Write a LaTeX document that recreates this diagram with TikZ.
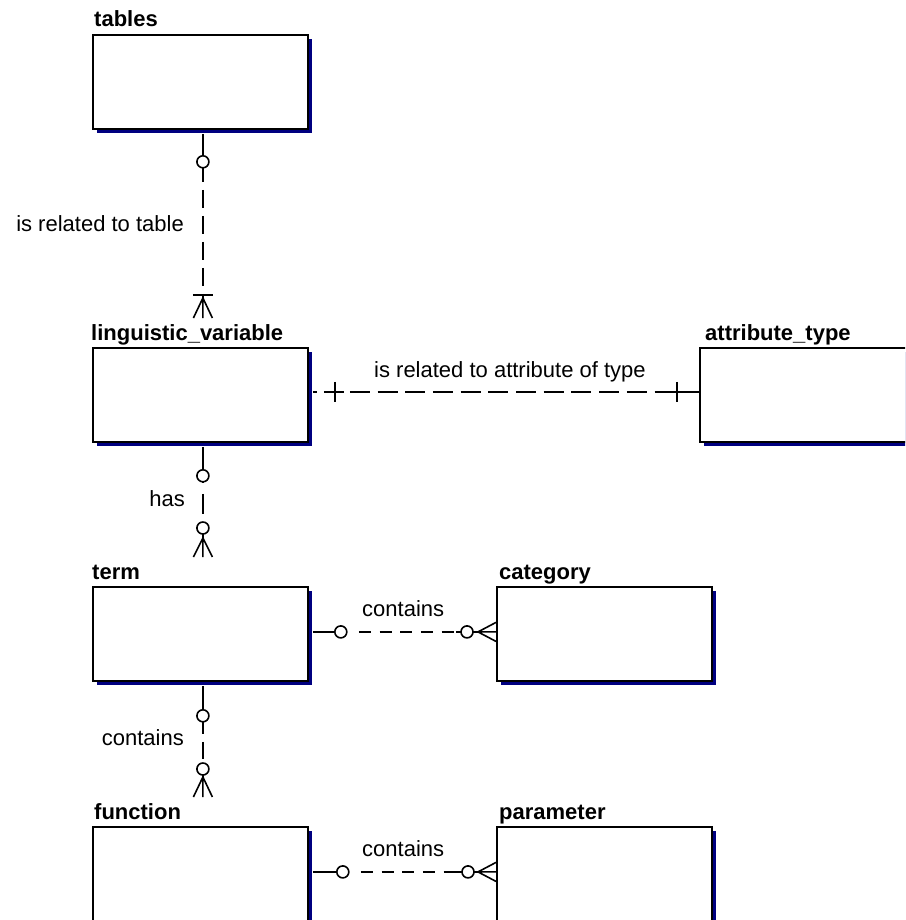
\documentclass[tikz,border=0pt]{standalone}
\usepackage{fontspec}
\setmainfont{Liberation Sans}
\usetikzlibrary{calc,shadows}
\definecolor{shadownavy}{RGB}{0,0,128}
\begin{document}
\begin{tikzpicture}[x=1pt,y=-1pt,
  entity/.style={draw=black, line width=1.8pt, fill=white,
    minimum width=215pt, minimum height=94pt, inner sep=0pt, anchor=north west,
    general shadow={fill=shadownavy, shadow xshift=4pt, shadow yshift=-4pt}},
  title/.style={anchor=base west, inner sep=0pt, font=\fontsize{22}{26}\selectfont\bfseries},
  lbl/.style={inner sep=0pt, font=\fontsize{22}{26}\selectfont},
  conn/.style={line width=1.6pt, black},
  dsh/.style={conn, dash pattern=on 12pt off 8.7pt},
  vdsh/.style={conn, dash pattern=on 18pt off 8pt},
  ldsh/.style={conn, dash pattern=on 20pt off 7.7pt},
  opt/.style={circle, draw=black, line width=1.6pt, fill=white, minimum size=12pt, inner sep=0pt},
]
\useasboundingbox (0,0) rectangle (905,920);
\clip (0,0) rectangle (905,920);

% entities
\node[entity] (tables) at (92,34) {};
\node[entity] (lv) at (92,347) {};
\node[entity] (attr) at (699,347) {};
\node[entity] (term) at (92,586) {};
\node[entity] (cat) at (496,586) {};
\node[entity] (func) at (92,826) {};
\node[entity] (param) at (496,826) {};

% entity names
\node[title] (tablesT) at ($(tables.north west)+(2,-7)$) {tables};
\node[title] (lvT) at ($(lv.north west)+(-1,-6.5)$) {linguistic\_variable};
\node[title] (attrT) at ($(attr.north west)+(6,-6.5)$) {attribute\_type};
\node[title] (termT) at ($(term.north west)+(0,-6.5)$) {term};
\node[title] (catT) at ($(cat.north west)+(3,-6.5)$) {category};
\node[title] (funcT) at ($(func.north west)+(2,-7)$) {function};
\node[title] (paramT) at ($(param.north west)+(3,-7)$) {parameter};

% tables -> linguistic_variable
\coordinate (c1s) at ([xshift=2.5pt]tables.south);
\coordinate (c1e) at ($(lv.north)+(2.5,-29)$);
\draw[conn, shorten <=4pt] (c1s) -- ($(c1s)+(0,52)$);
\draw[vdsh] ($(c1s)+(0,60)$) -- ($(c1e)+(0,-20)$);
\draw[conn] ($(c1e)+(-10,-23)$) -- ($(c1e)+(10,-23)$);
\draw[conn] ($(c1e)+(0,-20)$) -- ($(c1e)+(-9.5,0)$)
            ($(c1e)+(0,-20)$) -- (c1e)
            ($(c1e)+(0,-20)$) -- ($(c1e)+(9.5,0)$);
\node[opt] (c1o) at ($(c1s)+(0,32)$) {};
\node[lbl, anchor=base east] (c1l) at (184,231) {is related to table};

% linguistic_variable -> term
\coordinate (c2s) at ([xshift=2.5pt]lv.south);
\coordinate (c2e) at ($(term.north)+(2.5,-29)$);
\draw[conn, shorten <=4pt] (c2s) -- ($(c2s)+(0,40)$);
\draw[conn] ($(c2s)+(0,51)$) -- ($(c2s)+(0,71)$);
\draw[conn] ($(c2e)+(0,-35)$) -- ($(c2e)+(0,-19)$);
\draw[conn] ($(c2e)+(0,-19)$) -- ($(c2e)+(-9.5,0)$)
            ($(c2e)+(0,-19)$) -- (c2e)
            ($(c2e)+(0,-19)$) -- ($(c2e)+(9.5,0)$);
\node[opt] (c2o) at ($(c2s)+(0,33)$) {};
\node[opt] (c2p) at ($(c2e)+(0,-29)$) {};
\node[lbl, anchor=base east] (c2l) at (185,506) {has};

% term -> function
\coordinate (c3s) at ([xshift=2.5pt]term.south);
\coordinate (c3e) at ($(func.north)+(2.5,-29)$);
\draw[conn, shorten <=4pt] (c3s) -- ($(c3s)+(0,52)$);
\draw[conn] ($(c3s)+(0,60)$) -- ($(c3s)+(0,77)$);
\draw[conn] ($(c3e)+(0,-34)$) -- ($(c3e)+(0,-20)$);
\draw[conn] ($(c3e)+(0,-20)$) -- ($(c3e)+(-9.5,0)$)
            ($(c3e)+(0,-20)$) -- (c3e)
            ($(c3e)+(0,-20)$) -- ($(c3e)+(9.5,0)$);
\node[opt] (c3o) at ($(c3s)+(0,34)$) {};
\node[opt] (c3p) at ($(c3e)+(0,-28)$) {};
\node[lbl, anchor=base east] (c3l) at (184,745) {contains};

% linguistic_variable -> attribute_type
\coordinate (c4s) at ([yshift=3pt]lv.east);
\coordinate (c4e) at ([yshift=3pt]attr.west);
\draw[conn, shorten <=4pt] (c4s) -- ($(c4s)+(8,0)$);
\draw[conn] ($(c4s)+(15,0)$) -- ($(c4s)+(35,0)$);
\draw[conn] ($(c4s)+(26,-10)$) -- ($(c4s)+(26,10)$);
\draw[ldsh] ($(c4s)+(41,0)$) -- ($(c4e)+(-26,0)$);
\draw[conn] ($(c4e)+(-26,0)$) -- (c4e);
\draw[conn] ($(c4e)+(-22,-10)$) -- ($(c4e)+(-22,10)$);
\node[lbl, anchor=base west] (c4l) at (374,377) {is related to attribute of type};

% term -> category
\coordinate (c5s) at ([yshift=2pt]term.east);
\coordinate (c5e) at ([yshift=2pt]cat.west);
\draw[conn, shorten <=4pt] (c5s) -- ($(c5s)+(38,0)$);
\draw[dsh] ($(c5s)+(50,0)$) -- ($(c5e)+(-34,0)$);
\draw[conn] ($(c5e)+(-40,0)$) -- ($(c5e)+(-18,0)$);
\draw[conn] ($(c5e)+(-18,0)$) -- ($(c5e)+(0,-9.5)$)
            ($(c5e)+(-18,0)$) -- (c5e)
            ($(c5e)+(-18,0)$) -- ($(c5e)+(0,9.5)$);
\node[opt] (c5o) at ($(c5s)+(32,0)$) {};
\node[opt] (c5p) at ($(c5e)+(-29,0)$) {};
\node[lbl, anchor=base west] (c5l) at (362,616) {contains};

% function -> parameter
\coordinate (c6s) at ([yshift=2pt]func.east);
\coordinate (c6e) at ([yshift=2pt]param.west);
\draw[conn, shorten <=4pt] (c6s) -- ($(c6s)+(40,0)$);
\draw[dsh] ($(c6s)+(52,0)$) -- ($(c6e)+(-34,0)$);
\draw[conn] ($(c6e)+(-40,0)$) -- ($(c6e)+(-18,0)$);
\draw[conn] ($(c6e)+(-18,0)$) -- ($(c6e)+(0,-9.5)$)
            ($(c6e)+(-18,0)$) -- (c6e)
            ($(c6e)+(-18,0)$) -- ($(c6e)+(0,9.5)$);
\node[opt] (c6o) at ($(c6s)+(34,0)$) {};
\node[opt] (c6p) at ($(c6e)+(-28,0)$) {};
\node[lbl, anchor=base west] (c6l) at (362,856) {contains};
\end{tikzpicture}
\end{document}
